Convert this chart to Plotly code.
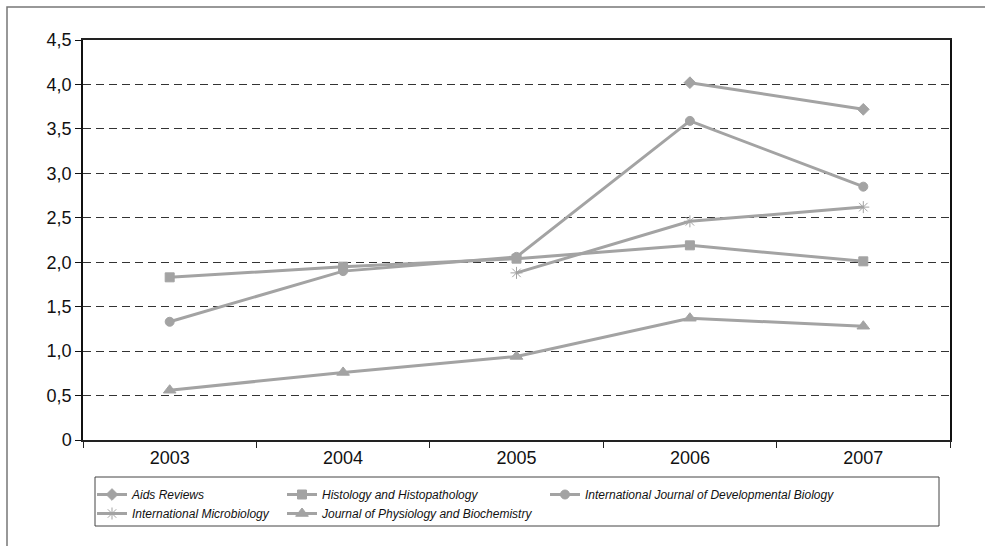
import plotly.graph_objects as go

years = ["2003", "2004", "2005", "2006", "2007"]

aids_reviews = [None, None, None, 4.02, 3.72]
histology = [1.83, 1.95, 2.04, 2.19, 2.01]
ijdb = [1.33, 1.90, 2.06, 3.59, 2.85]
int_microbiology = [None, None, 1.88, 2.46, 2.62]
j_physiol_biochem = [0.56, 0.76, 0.94, 1.37, 1.28]

series_names = [
    "Aids Reviews",
    "Histology and Histopathology",
    "International Journal of Developmental Biology",
    "International Microbiology",
    "Journal of Physiology and Biochemistry",
]

y_tickvals = [0, 0.5, 1.0, 1.5, 2.0, 2.5, 3.0, 3.5, 4.0, 4.5]
y_ticktext = ["0", "0,5", "1,0", "1,5", "2,0", "2,5", "3,0", "3,5", "4,0", "4,5"]

GRAY = "#a3a3a3"
W, H = 985, 546
L, R, T, B = 83, 35, 40, 106
PW, PH = W - L - R, H - T - B

def px_x(p):
    return (p - L) / PW

def px_y(p):
    return (H - B - p) / PH

fig = go.Figure()

specs = [
    (aids_reviews, "diamond", 9, 1, "legend"),
    (histology, "square", 9, 1, "legend2"),
    (ijdb, "circle", 9, 1, "legend3"),
    (int_microbiology, "asterisk-open", 10, 1, "legend"),
    (j_physiol_biochem, "triangle-up", 11, 1, "legend2"),
]

for name, (vals, sym, size, lw, lg) in zip(series_names, specs):
    fig.add_trace(go.Scatter(
        x=years, y=vals, name=name, mode="lines+markers",
        line=dict(color=GRAY, width=3),
        marker=dict(symbol=sym, size=size, color=GRAY,
                    line=dict(color=GRAY, width=lw)),
        connectgaps=False,
        legend=lg,
    ))

legend_font = dict(family="Liberation Sans, Arial", size=12, color="#111", style="italic")
legend_common = dict(orientation="v", font=legend_font, bgcolor="rgba(0,0,0,0)",
                     borderwidth=0, itemwidth=30, xanchor="left", yanchor="top",
                     tracegroupgap=0, itemclick=False)

fig.update_layout(
    width=W, height=H,
    margin=dict(l=L, r=R, t=T, b=B, pad=0),
    paper_bgcolor="white", plot_bgcolor="white",
    font=dict(family="Liberation Sans, Arial", size=18, color="#111"),
    showlegend=True,
    legend=dict(x=px_x(92), y=px_y(480), **legend_common),
    legend2=dict(x=px_x(282), y=px_y(480), **legend_common),
    legend3=dict(x=px_x(545), y=px_y(480), **legend_common),
    xaxis=dict(
        type="category", range=[-0.5, 4.5],
        showline=True, linecolor="#222", linewidth=2, mirror=True,
        ticks="outside", ticklen=6, tickcolor="#222", tickwidth=1,
        tickson="boundaries", showgrid=False, zeroline=False,
        tickfont=dict(size=18),
    ),
    yaxis=dict(
        range=[0, 4.5], tickvals=y_tickvals, ticktext=y_ticktext,
        showline=True, linecolor="#111", linewidth=1.5, mirror=True,
        ticks="outside", ticklen=6, tickcolor="#111", tickwidth=1,
        showgrid=True, gridcolor="#333", gridwidth=1, griddash="8px,5px",
        zeroline=False, tickfont=dict(size=18),
    ),
    shapes=[
        dict(type="rect", xref="paper", yref="paper",
             x0=px_x(7), x1=px_x(W + 20), y0=px_y(H + 20), y1=px_y(7),
             line=dict(color="#777", width=1.5), fillcolor="rgba(0,0,0,0)", layer="below"),
        dict(type="rect", xref="paper", yref="paper",
             x0=px_x(95), x1=px_x(939), y0=px_y(526), y1=px_y(477),
             line=dict(color="#444", width=1), fillcolor="rgba(0,0,0,0)"),
    ],
)

fig.write_html("out.html")
